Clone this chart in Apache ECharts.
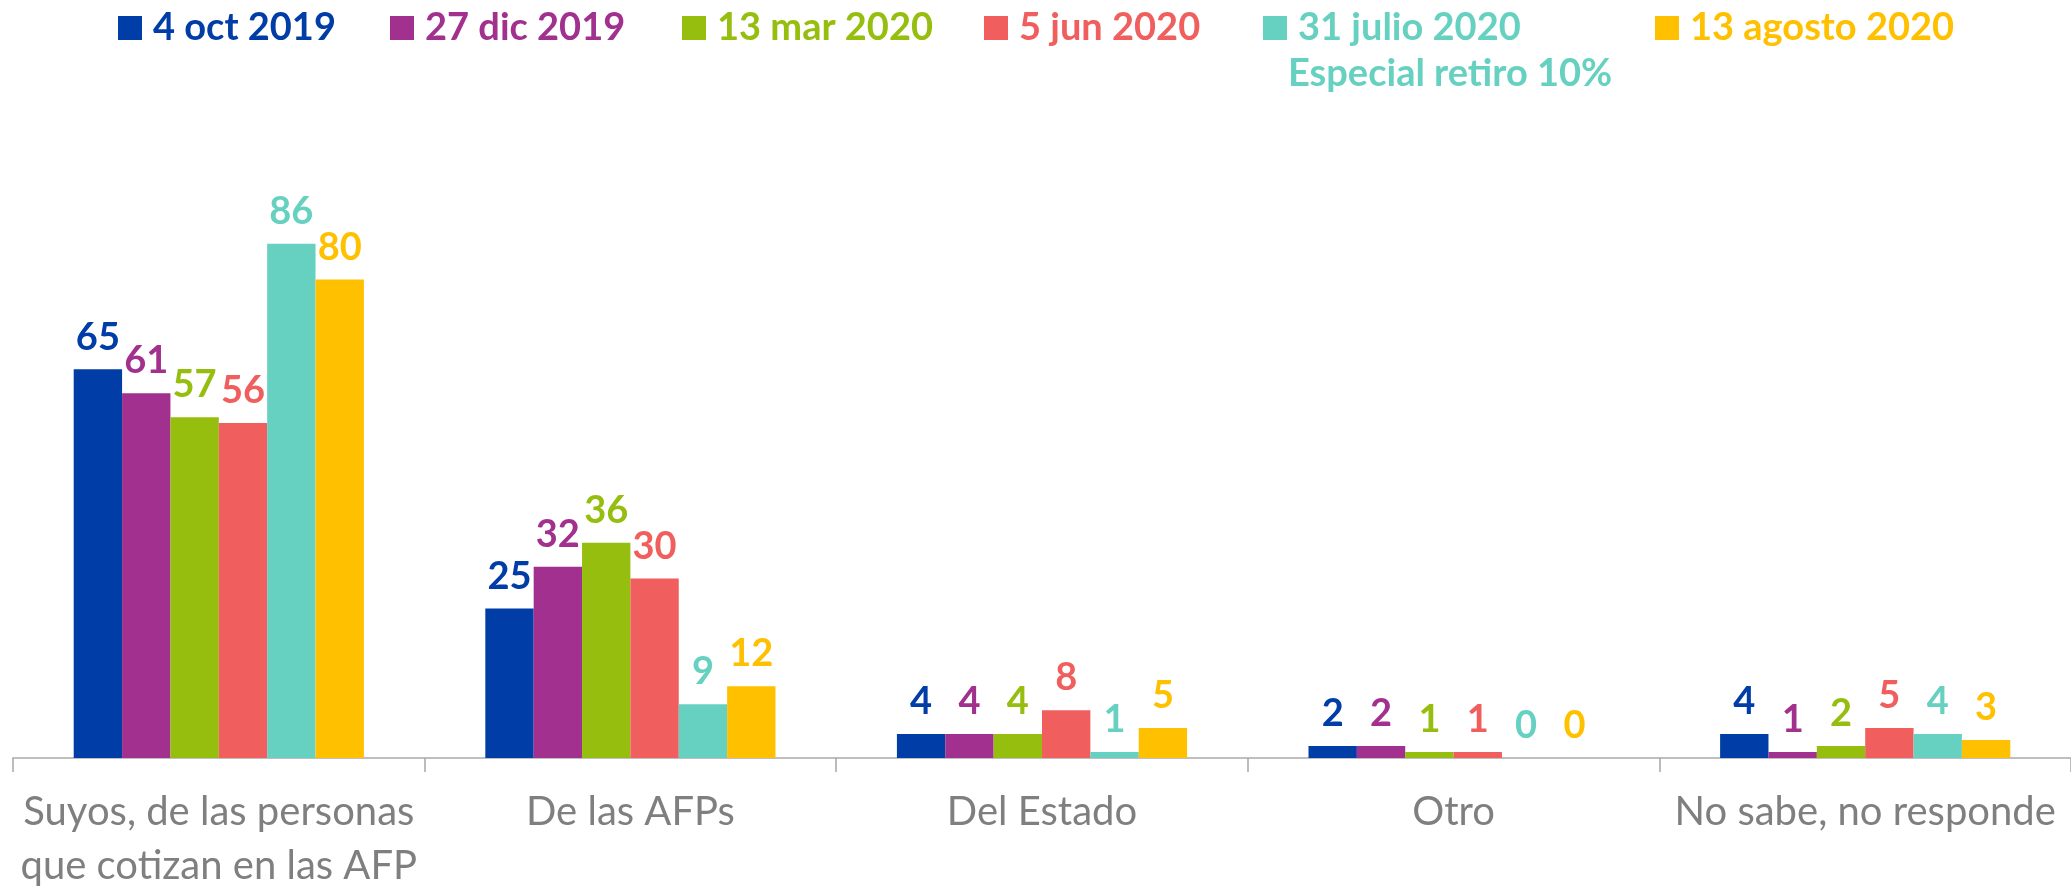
<!DOCTYPE html>
<html>
<head>
<meta charset="utf-8">
<script src="https://cdn.jsdelivr.net/npm/echarts@6/dist/echarts.min.js"></script>
<style>
  html, body { margin: 0; padding: 0; background: #fff; }
  #main { width: 2071px; height: 888px; }
</style>
</head>
<body>
<div id="main"></div>
<script>
// categorías y series
var categories = ['Suyos, de las personas\nque cotizan en las AFP', 'De las AFPs', 'Del Estado', 'Otro', 'No sabe, no responde'];
var seriesNames = ['4 oct 2019', '27 dic 2019', '13 mar 2020', '5 jun 2020', '31 julio 2020', '13 agosto 2020'];
var colors = ['#003DA6', '#A1308E', '#96BE0E', '#F05F5D', '#67D1C1', '#FFC000'];

var oct2019 = [65, 25, 4, 2, 4];
var dic2019 = [61, 32, 4, 2, 1];
var mar2020 = [57, 36, 4, 1, 2];
var jun2020 = [56, 30, 8, 1, 5];
var jul2020 = [86, 9, 1, 0, 4];
var ago2020 = [80, 12, 5, 0, 3];
var values = [oct2019, dic2019, mar2020, jun2020, jul2020, ago2020];

var legendLeft = [118, 390, 682, 984, 1263, 1655];
var font = 'Lato, "Noto Sans", sans-serif';

var myChart = echarts.init(document.getElementById('main'));

var legends = seriesNames.map(function (name, i) {
  return {
    data: [name],
    left: legendLeft[i],
    top: 9,
    padding: 0,
    itemWidth: 24,
    itemHeight: 24,
    itemGap: 0,
    icon: 'rect',
    selectedMode: false,
    textStyle: { color: colors[i], fontSize: 38, fontWeight: 'bold', fontFamily: font, padding: [0, 0, 0, 6] }
  };
});

var series = seriesNames.map(function (name, i) {
  return {
    name: name,
    type: 'bar',
    data: values[i],
    barGap: '0%',
    barCategoryGap: '29.5%',
    itemStyle: { color: colors[i] },
    label: {
      show: true,
      position: 'top',
      distance: 13,
      color: colors[i],
      fontSize: 38,
      fontWeight: 'bold',
      fontFamily: font
    }
  };
});

var option = {
  animation: false,
  color: colors,
  legend: legends,
  graphic: [{
    type: 'text',
    left: 1288,
    top: 55,
    style: { text: 'Especial retiro 10%', fill: colors[4], fontSize: 38, fontWeight: 'bold', fontFamily: font }
  }],
  grid: { left: 13, right: 0, top: 160, bottom: 130, containLabel: false, outerBoundsMode: 'none' },
  xAxis: {
    type: 'category',
    data: categories,
    axisLine: { lineStyle: { color: '#BFBFBF', width: 2 } },
    axisTick: { show: true, length: 14, lineStyle: { color: '#A6A6A6', width: 1.5 } },
    axisLabel: { color: '#7F7F7F', fontSize: 40, fontFamily: font, lineHeight: 54, margin: 27, interval: 0 }
  },
  yAxis: {
    type: 'value',
    min: 0,
    max: 100,
    show: false,
    splitLine: { show: false }
  },
  series: series
};

myChart.setOption(option);
</script>
</body>
</html>
